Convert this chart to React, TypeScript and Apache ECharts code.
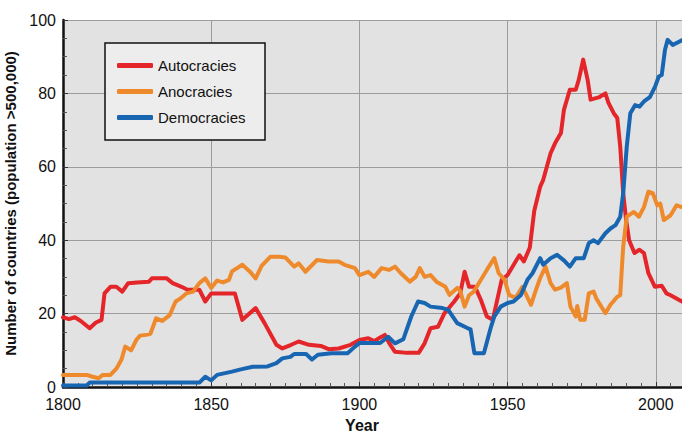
import React, { useEffect, useRef } from "react";
import * as echarts from "echarts";

const seriesNames = ["Autocracies", "Anocracies", "Democracies"];
const seriesColors = ["#e4262a", "#ee8a2c", "#1866b2"];

const autocracies: [number, number][] = [
  [1800, 19], [1802, 18.5], [1804, 19], [1806, 18], [1809, 16], [1811, 17.5], [1813, 18.3],
  [1814, 25.5], [1816, 27.3], [1818, 27.3], [1820, 26], [1822, 28.3], [1825, 28.5], [1829, 28.7],
  [1830, 29.6], [1835, 29.6], [1837, 28.3], [1840, 27.3], [1842, 26.5], [1846, 26.5], [1848, 23.3],
  [1850, 25.5], [1858, 25.5], [1860.5, 18.3], [1865, 21.5], [1868, 17.4], [1872, 11.5], [1874, 10.5],
  [1877, 11.5], [1879.5, 12.4], [1883, 11.5], [1887, 11.2], [1889.6, 10.3], [1893, 10.5], [1897, 11.5],
  [1900, 12.8], [1903, 13.3], [1905, 12.5], [1907, 13.5], [1908.6, 14.2], [1910, 12], [1912, 9.6],
  [1916, 9.3], [1920, 9.3], [1922, 11.9], [1924, 16], [1926.5, 16.4], [1928.7, 20.1], [1932, 23.3],
  [1934, 25.5], [1935.5, 31.4], [1937, 27.3], [1939, 27.3], [1941, 23.7], [1943, 19.2], [1945, 18.3],
  [1948, 29.2], [1950, 30.5], [1952.7, 34.2], [1954, 35.9], [1955.5, 34.2], [1957.5, 38], [1959, 48],
  [1961, 54.6], [1962, 56.4], [1964.5, 63.7], [1966, 66.4], [1968, 69.2], [1969, 75.5], [1971, 81],
  [1973, 81], [1974, 83.7], [1975.5, 89.2], [1977, 83.7], [1978, 78.3], [1981, 79], [1983, 80],
  [1984, 77.5], [1985.8, 74.6], [1987, 73.3], [1988, 65.5], [1989, 52.8], [1990, 45.5], [1991, 40],
  [1992.8, 36.5], [1994.5, 37.4], [1996, 36.5], [1997.5, 31], [1999.7, 27.3], [2002, 27.6],
  [2003.6, 25.5], [2005, 25], [2008.8, 23.3],
];

const anocracies: [number, number][] = [
  [1800, 3.3], [1808, 3.3], [1810, 2.8], [1812, 2.4], [1813.5, 3.3], [1816, 3.3], [1818, 5],
  [1819.7, 7.4], [1821, 11], [1823, 10], [1824.7, 12.8], [1826, 14], [1828, 14.2], [1829.5, 14.5],
  [1831.4, 18.7], [1833.5, 18], [1836, 19.6], [1838, 23.3], [1839.4, 24], [1841.6, 25.5], [1843.9, 26],
  [1846, 28.3], [1848, 29.6], [1850, 27], [1852, 29], [1854, 28.5], [1856, 29.2], [1857, 31.5],
  [1860.5, 33.3], [1863, 31.5], [1865, 29.6], [1867, 33], [1870, 35.5], [1873, 35.5], [1875, 35.3],
  [1878, 32.8], [1879.5, 33.7], [1881.8, 31.4], [1885.7, 34.6], [1889.6, 34.2], [1893, 34.2],
  [1895, 33.3], [1898.5, 32.4], [1900, 30.5], [1903, 31.4], [1905, 30], [1907.5, 32.4], [1910, 31.9],
  [1912, 32.8], [1914, 31], [1917, 28.7], [1919, 30], [1920.4, 32.4], [1922, 30], [1924, 30.5],
  [1926, 28.7], [1929, 27.3], [1930.4, 25.1], [1933, 27], [1934, 26.2], [1935.5, 21.9], [1937, 25],
  [1938.6, 26], [1941, 29.2], [1943, 31.9], [1945.5, 35.1], [1947, 31], [1949, 29.2], [1950.5, 25.1],
  [1952.7, 24.3], [1955, 27.3], [1957.9, 22.4], [1959.5, 26.3], [1961, 29.7], [1962.8, 32.8],
  [1964.5, 28.3], [1966, 26.5], [1968, 27.1], [1970, 28.3], [1971.2, 21.9], [1973, 19.2],
  [1973.5, 22.1], [1974.5, 18.3], [1976, 18.3], [1977.4, 25.5], [1979, 26], [1980, 24], [1983, 20.1],
  [1984.7, 22.4], [1987, 24.6], [1988, 25], [1989, 38.3], [1990.2, 46.4], [1992.6, 47.7],
  [1994.3, 46.4], [1996, 49], [1997.5, 53.2], [1999, 52.8], [2000.5, 49.5], [2001.5, 50],
  [2002.7, 45.5], [2005, 46.8], [2007, 49.5], [2008.8, 49],
];

const democracies: [number, number][] = [
  [1800, 0.4], [1808, 0.4], [1809, 1.2], [1846, 1.2], [1848, 2.8], [1850, 1.8], [1852, 3.3],
  [1857, 4.2], [1860, 4.8], [1864, 5.5], [1869, 5.6], [1872, 6.5], [1874, 7.8], [1876.7, 8.2],
  [1878, 9], [1882, 9], [1884, 7.5], [1886, 8.8], [1890.6, 9.2], [1896, 9.2], [1898.5, 11], [1900, 12],
  [1907, 12], [1909.7, 13.7], [1912, 11.9], [1914.8, 13], [1917.5, 19.2], [1919.8, 23.3], [1922, 22.9],
  [1924, 21.9], [1928, 21.5], [1930, 21], [1931.5, 19.2], [1933, 17.4], [1936.6, 16], [1937.5, 15.7],
  [1938.8, 9.2], [1942, 9.2], [1944.4, 16.4], [1945.5, 19.2], [1947.7, 21.9], [1950, 22.9],
  [1952, 23.3], [1954.5, 25.1], [1956.7, 29.2], [1958.4, 31], [1961, 35.1], [1962, 33.3],
  [1964.5, 35.1], [1966.7, 36], [1969, 34.5], [1971, 32.8], [1973, 35.1], [1975.7, 35.1],
  [1977.4, 39.2], [1979, 40], [1980.5, 39.2], [1983, 41.9], [1984.7, 43.2], [1986.4, 44.1],
  [1988, 46.4], [1989, 52.8], [1990.2, 65.5], [1991.4, 74.6], [1993, 76.8], [1994.5, 76.4],
  [1996, 77.8], [1998, 79], [1999.8, 81.9], [2001, 84.6], [2002, 85], [2003.1, 91.9], [2004, 94.6],
  [2005.7, 93.2], [2008.8, 94.5],
];

const seriesData = [autocracies, anocracies, democracies];

const xTickLabels = [1800, 1850, 1900, 1950, 2000];
const yTickLabels = [0, 20, 40, 60, 80, 100];

export default function App() {
  const ref = useRef<HTMLDivElement>(null);
  useEffect(() => {
    if (!ref.current) return;
    const chart = echarts.init(ref.current, undefined, { renderer: "svg" });
    const font = "Liberation Sans, Arial, Helvetica, sans-serif";
    chart.setOption({
      animation: false,
      backgroundColor: "#ffffff",
      textStyle: { fontFamily: font },
      grid: {
        left: 63,
        top: 20,
        width: 741,
        height: 367,
        outerBoundsMode: "none",
        containLabel: false,
        show: true,
        backgroundColor: "#e2e2e2",
        borderWidth: 0,
      },
      graphic: [
        {
          type: "rect",
          z: 3,
          shape: { x: 105, y: 43, width: 160, height: 97 },
          style: { fill: "#ededed", stroke: "#111", lineWidth: 1.5 },
        },
        {
          type: "text",
          z: 5,
          x: 362,
          y: 425,
          style: {
            text: "Year",
            fill: "#111",
            font: `bold 16px ${font}`,
            align: "center",
            verticalAlign: "middle",
          },
        },
      ],
      legend: {
        orient: "vertical",
        left: 105,
        top: 43,
        padding: [15, 10, 10, 12],
        itemGap: 11,
        itemWidth: 36,
        itemHeight: 5,
        icon: "roundRect",
        z: 4,
        data: seriesNames,
        textStyle: { fontSize: 15, color: "#111", fontFamily: font },
      },
      xAxis: {
        type: "value",
        min: 1800,
        max: 2050,
        interval: 50,
        axisLine: { show: true, onZero: false, lineStyle: { color: "#111", width: 2.5 } },
        axisTick: { show: true, inside: true, length: 5, lineStyle: { color: "#333" } },
        minorTick: { show: true, splitNumber: 10, length: 4, lineStyle: { color: "#555" } },
        splitLine: { show: true, lineStyle: { color: "#9c9c9c", width: 1 } },
        axisLabel: {
          margin: 9,
          fontSize: 16,
          color: "#111",
          fontFamily: font,
          formatter: (v: number) => (xTickLabels.includes(v) ? String(v) : ""),
        },
      },
      yAxis: {
        type: "value",
        min: 0,
        max: 100,
        interval: 20,
        name: "Number of countries (population >500,000)",
        nameLocation: "middle",
        nameGap: 45,
        nameTextStyle: { fontSize: 15, fontWeight: "bold", color: "#111", fontFamily: font },
        axisLine: { show: true, lineStyle: { color: "#111", width: 2.5 } },
        axisTick: { show: true, inside: true, length: 5, lineStyle: { color: "#333" } },
        minorTick: { show: true, splitNumber: 4, length: 4, lineStyle: { color: "#555" } },
        splitLine: { show: true, lineStyle: { color: "#9c9c9c", width: 1 } },
        axisLabel: {
          margin: 7,
          fontSize: 16,
          color: "#111",
          fontFamily: font,
          formatter: (v: number) => (yTickLabels.includes(v) ? String(v) : ""),
        },
      },
      series: seriesNames.map((name, i) => ({
        name,
        type: "line",
        data: seriesData[i],
        showSymbol: false,
        symbol: "none",
        color: seriesColors[i],
        lineStyle: { width: 4, color: seriesColors[i], cap: "round", join: "round" },
        z: 2,
      })),
    });
    return () => chart.dispose();
  }, []);
  return (
    <div
      ref={ref}
      style={{ position: "fixed", left: 0, top: 0, width: 682, height: 437 }}
    />
  );
}
